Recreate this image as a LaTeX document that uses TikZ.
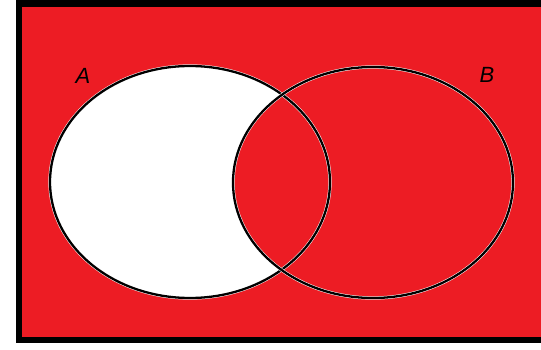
\documentclass[tikz,border=0pt]{standalone}
\usepackage{fontspec}
\setmainfont{Liberation Sans}
\definecolor{paintred}{RGB}{237,28,36}
\begin{document}
\begin{tikzpicture}[x=1pt,y=-1pt,
  outline/.style={draw=white,double=black,double distance=2.3pt,line width=0.5pt},
  setlabel/.style={font=\fontsize{22}{22}\selectfont\itshape,text=black,inner sep=0pt}]
\useasboundingbox (0,0) rectangle (541,350);
\fill[white] (0,0) rectangle (541,350);
\fill[black] (16,0.5) rectangle (541,343);
\fill[paintred] (22,7) rectangle (541,337);
\fill[white] (190,182) ellipse [x radius=140,y radius=116];
\fill[paintred] (373,182.5) ellipse [x radius=140,y radius=115.5];
\draw[outline] (190,182) ellipse [x radius=140,y radius=116];
\draw[outline] (373,182.5) ellipse [x radius=140,y radius=115.5];
\node[setlabel] (A) at (83,76) {A};
\node[setlabel] (B) at (487,75) {B};
\end{tikzpicture}
\end{document}
